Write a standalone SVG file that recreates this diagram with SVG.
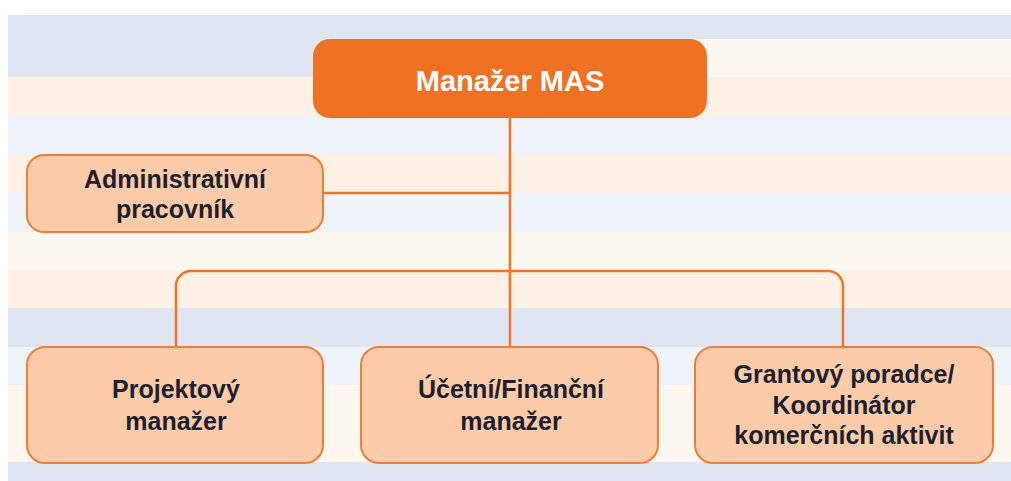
<svg xmlns="http://www.w3.org/2000/svg" width="1011" height="481" viewBox="0 0 1011 481">
<style>
.blue{fill:#dfe6f1}.lblue{fill:#eef3f9}.peach{fill:#fdf0e4}.cream{fill:#fcf8f0}
.box{fill:#fccba9;stroke:#f07c38;stroke-width:2}
.main{fill:#f17124}
.t{font-family:"Liberation Sans",Arial,sans-serif;font-weight:bold;font-size:25px;fill:#1e1e2c;text-anchor:middle}
.mt{font-family:"Liberation Sans",Arial,sans-serif;font-weight:bold;font-size:29px;fill:#ffffff;text-anchor:middle}
.c{fill:none;stroke:#f07428;stroke-width:2.5}
</style>
<rect width="1011" height="481" fill="#ffffff"/>
<g id="background">
<rect class="blue" x="8" y="15" width="1003" height="24"/>
<rect class="blue" x="8" y="39" width="502" height="38"/>
<rect class="cream" x="510" y="39" width="501" height="38"/>
<rect class="peach" x="8" y="77" width="1003" height="39"/>
<rect class="lblue" x="8" y="116" width="1003" height="39"/>
<rect class="peach" x="8" y="155" width="1003" height="38"/>
<rect class="lblue" x="8" y="193" width="1003" height="39"/>
<rect class="cream" x="8" y="232" width="1003" height="38"/>
<rect class="peach" x="8" y="270" width="1003" height="38"/>
<rect class="blue" x="8" y="308" width="1003" height="39"/>
<rect class="lblue" x="8" y="347" width="1003" height="38"/>
<rect class="cream" x="8" y="385" width="1003" height="77"/>
<rect class="blue" x="8" y="462" width="1003" height="19"/>
</g>
<g id="connectors">
<path class="c" d="M510 118 V347"/>
<path class="c" d="M323 193 H510"/>
<path class="c" d="M176 347 V286 A15 15 0 0 1 191 271 H828 A15 15 0 0 1 843 286 V347"/>
</g>
<g id="node-manazer">
<rect class="main" x="313" y="39" width="394" height="79" rx="17"/>
<text class="mt" x="510" y="91">Manažer MAS</text>
</g>
<g id="node-admin">
<rect class="box" x="27" y="155" width="296" height="77" rx="17"/>
<text class="t" x="175" y="188">Administrativní</text>
<text class="t" x="175" y="218">pracovník</text>
</g>
<g id="node-projekt">
<rect class="box" x="27" y="347" width="296" height="116" rx="18"/>
<text class="t" x="176" y="398">Projektový</text>
<text class="t" x="176" y="430">manažer</text>
</g>
<g id="node-ucetni">
<rect class="box" x="361" y="347" width="297" height="116" rx="18"/>
<text class="t" x="511" y="398">Účetní/Finanční</text>
<text class="t" x="511" y="430">manažer</text>
</g>
<g id="node-grant">
<rect class="box" x="695" y="347" width="298" height="116" rx="18"/>
<text class="t" x="844" y="383">Grantový poradce/</text>
<text class="t" x="844" y="414">Koordinátor</text>
<text class="t" x="844" y="444">komerčních aktivit</text>
</g>
</svg>
